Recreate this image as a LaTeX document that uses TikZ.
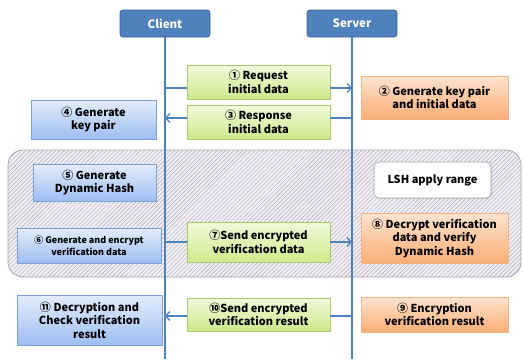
\documentclass[tikz,border=0pt]{standalone}
\usepackage{fontspec}
\setmainfont{Noto Sans CJK KR}
\usetikzlibrary{arrows.meta,patterns.meta,shadows,calc}
\definecolor{hdr}{HTML}{4F81BD}
\definecolor{hdrb}{HTML}{3A6496}
\definecolor{life}{HTML}{4F81BD}
\definecolor{gtop}{HTML}{F2F9DC}
\definecolor{gbot}{HTML}{CDEB8B}
\definecolor{gbrd}{HTML}{A9C96A}
\definecolor{btop}{HTML}{E3ECFB}
\definecolor{bbot}{HTML}{9EBEF2}
\definecolor{bbrd}{HTML}{7E9FD4}
\definecolor{otop}{HTML}{FDE3CF}
\definecolor{obot}{HTML}{FBAE75}
\definecolor{obrd}{HTML}{F4B183}
\definecolor{regfill}{HTML}{F1EFF4}
\definecolor{reghatch}{HTML}{ADA8BA}
\definecolor{regbrd}{HTML}{A8A4B0}
\tikzset{
  every node/.style={font=\bfseries\fontsize{11}{13.5}\selectfont, align=center, inner sep=1pt},
  header/.style={draw=hdrb, line width=0.8pt, fill=hdr, rounded corners=3pt, text=white, minimum width=90pt, minimum height=27pt, font=\bfseries\fontsize{11.5}{14}\selectfont},
  msgbox/.style={draw=gbrd, line width=0.6pt, top color=gtop, bottom color=gbot, minimum width=143pt, drop shadow={opacity=0.25, shadow xshift=1pt, shadow yshift=-1pt}},
  clibox/.style={draw=bbrd, line width=0.6pt, top color=btop, bottom color=bbot, drop shadow={opacity=0.25, shadow xshift=1pt, shadow yshift=-1pt}},
  srvbox/.style={draw=obrd, line width=0.6pt, top color=otop, bottom color=obot, minimum width=147pt, drop shadow={opacity=0.25, shadow xshift=1pt, shadow yshift=-1pt}},
  lifeline/.style={draw=life, line width=2pt},
  msgline/.style={draw=life, line width=1.5pt},
  msgarrow/.style={msgline, -{Straight Barb[length=4pt,width=9pt,line width=1.3pt]}},
}
\begin{document}
\begin{tikzpicture}[x=1pt,y=-1pt]
\useasboundingbox (0,0) rectangle (524,359);
% region
\node[draw=regbrd, line width=0.8pt, rounded corners=15pt, fill=regfill,
      postaction={pattern={Lines[angle=45,distance=3pt,line width=0.45pt]}, pattern color=reghatch},
      minimum width=513pt, minimum height=127pt, inner sep=0pt] (reg) at (264.5,213.5) {};
% headers
\node[header] (hc) at (165,23.5) {Client};
\node[header] (hs) at (352,23.5) {Server};
\coordinate (ce) at (165,359);
\coordinate (se) at (352,359);
\draw[lifeline] (hc.south) -- (ce);
\draw[lifeline] (hs.south) -- (se);
% message boxes
\node[msgbox, minimum height=34pt] (m1) at (258.5,82) {① Request\\initial data};
\node[msgbox, minimum height=34pt] (m3) at (258.5,122) {③ Response\\initial data};
\node[msgbox, minimum height=40pt] (m7) at (258.5,242) {⑦Send encrypted\\verification data};
\node[msgbox, minimum height=33pt] (m10) at (258.5,314.5) {⑩Send encrypted\\verification result};
% server boxes
\node[srvbox, minimum height=43pt] (b2) at (434.5,97.5) {② Generate key pair\\and initial data};
\node[srvbox, minimum height=50pt] (b8) at (434.5,238) {⑧ Decrypt verification\\data and verify\\Dynamic Hash};
\node[srvbox, minimum height=35pt] (b9) at (434.5,314.5) {⑨ Encryption\\verification result};
% client boxes
\node[clibox, minimum width=125pt, minimum height=39pt] (b4) at (93.5,119.5) {④ Generate\\key pair};
\node[clibox, minimum width=123pt, minimum height=37pt] (b5) at (94.5,182.5) {⑤ Generate\\Dynamic Hash};
\node[clibox, minimum width=144pt, minimum height=35pt, font=\bfseries\fontsize{9}{11.5}\selectfont] (b6) at (89,245.5) {⑥ Generate and encrypt\\verification data};
\node[clibox, minimum width=145pt, minimum height=50pt] (b11) at (89.5,320) {⑪ Decryption and\\Check verification\\result};
% LSH
\node[draw=regbrd, line width=0.6pt, fill=white, rounded corners=5pt, minimum width=117pt, minimum height=36pt, drop shadow={opacity=0.2, shadow xshift=1pt, shadow yshift=-1pt}] (lsh) at (432.5,180) {LSH apply range};
% arrows
\coordinate (c1) at (165,88);   \coordinate (s1) at (352,88);
\draw[msgline] (c1) -- (c1 -| m1.west);
\draw[msgarrow] (c1 -| m1.east) -- (s1);
\coordinate (c3) at (165,118);  \coordinate (s3) at (352,118);
\draw[msgline] (s3) -- (s3 -| m3.east);
\draw[msgarrow] (s3 -| m3.west) -- (c3);
\coordinate (c7) at (165,242);  \coordinate (s7) at (352,242);
\draw[msgline] (c7) -- (c7 -| m7.west);
\draw[msgarrow] (c7 -| m7.east) -- (s7);
\coordinate (c10) at (165,316); \coordinate (s10) at (352,316);
\draw[msgline] (s10) -- (s10 -| m10.east);
\draw[msgarrow] (s10 -| m10.west) -- (c10);
\end{tikzpicture}
\end{document}
